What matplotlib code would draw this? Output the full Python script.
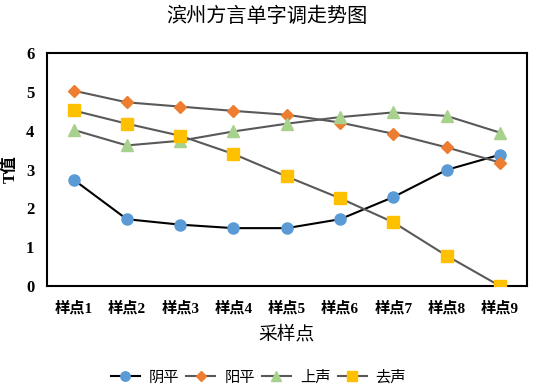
import matplotlib.pyplot as plt
import numpy as np

plt.rcParams['font.family'] = ['Liberation Serif', 'Noto Sans CJK SC', 'DejaVu Sans']

# --- Dados ---
categorias = ['样点1', '样点2', '样点3', '样点4', '样点5', '样点6', '样点7', '样点8', '样点9']
yinping = [2.74, 1.72, 1.58, 1.49, 1.49, 1.72, 2.29, 2.99, 3.38]
yangping = [5.03, 4.73, 4.62, 4.51, 4.41, 4.21, 3.92, 3.57, 3.18]
shangsheng = [4.02, 3.62, 3.74, 3.98, 4.18, 4.35, 4.47, 4.38, 3.95]
qusheng = [4.52, 4.18, 3.87, 3.40, 2.82, 2.26, 1.64, 0.78, 0.0]
y_ticks = [0, 1, 2, 3, 4, 5, 6]

series = [
    ('阴平', yinping, 'o', '#5B9BD5', 'black', 8),
    ('阳平', yangping, 'D', '#ED7D31', '#595959', 6),
    ('上声', shangsheng, '^', '#A9D18E', '#595959', 8),
    ('去声', qusheng, 's', '#FFC000', '#595959', 8),
]

fig = plt.figure(figsize=(5.33, 3.87), dpi=100)
ax = fig.add_axes([0.088, 0.261, 0.9, 0.602])

x = np.arange(len(categorias))
for nome, vals, mk, cor, cor_linha, ms in series:
    ax.plot(x, vals, color=cor_linha, linewidth=1.5, marker=mk, markersize=ms,
            markerfacecolor=cor, markeredgecolor=cor, label=nome, zorder=3)

ax.set_xlim(-0.5, len(categorias) - 0.5)
ax.set_ylim(0, 6)
ax.set_yticks(y_ticks)
ax.set_xticks(x)
ax.set_xticklabels(categorias, fontsize=11, fontweight='bold')
ax.tick_params(axis='y', labelsize=12, length=0, pad=9)
ax.tick_params(axis='x', length=0, pad=11)
for lbl in ax.get_yticklabels():
    lbl.set_fontweight('bold')
for s in ax.spines.values():
    s.set_linewidth(1.5)
    s.set_color('black')

ax.set_ylabel('T值', fontsize=12, fontweight='bold', labelpad=5)
ax.set_xlabel('采样点', fontsize=13.5, labelpad=7)
fig.text(0.5, 0.955, '滨州方言单字调走势图', ha='center', va='center', fontsize=14.5)

leg = fig.legend(loc='center', bbox_to_anchor=(0.485, 0.025), ncol=4, frameon=False,
                 fontsize=11, handlelength=1.9, columnspacing=0.45, handletextpad=0.6,
                 markerscale=0.85)

plt.savefig('out.png', dpi=100)
